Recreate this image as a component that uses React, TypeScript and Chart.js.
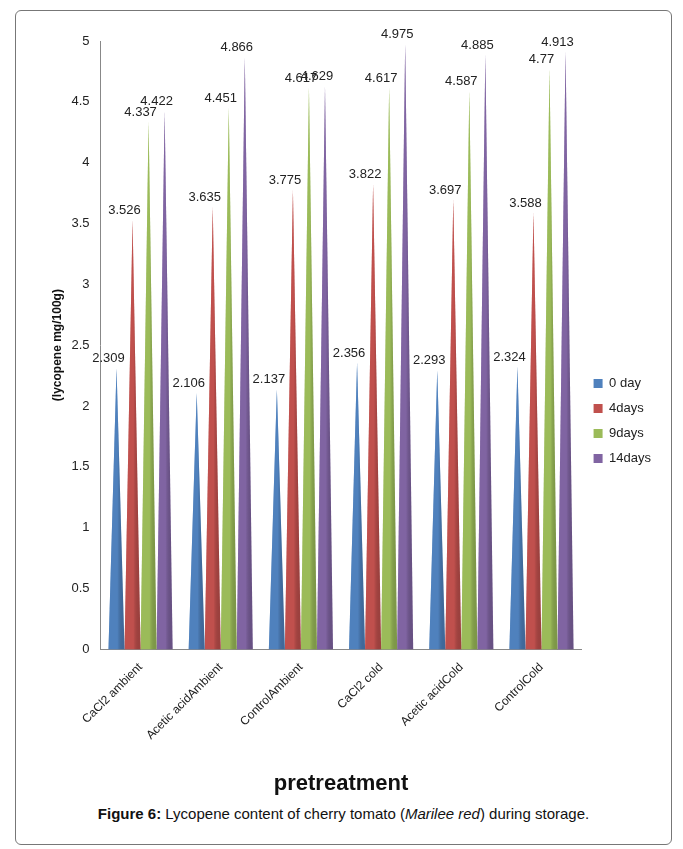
import { useEffect, useRef } from 'react';
import { Chart, registerables } from 'chart.js';

Chart.register(...registerables);

const CATEGORIES = ['CaCl2 ambient', 'Acetic acidAmbient', 'ControlAmbient', 'CaCl2 cold', 'Acetic acidCold', 'ControlCold'];
const SERIES = ['0 day', '4days', '9days', '14days'];
const COLORS = ['#4f81bd', '#c0504d', '#9bbb59', '#8064a2'];
const DAY0 = [2.309, 2.106, 2.137, 2.356, 2.293, 2.324];
const DAY4 = [3.526, 3.635, 3.775, 3.822, 3.697, 3.588];
const DAY9 = [4.337, 4.451, 4.617, 4.617, 4.587, 4.77];
const DAY14 = [4.422, 4.866, 4.629, 4.975, 4.885, 4.913];
const VALUES = [DAY0, DAY4, DAY9, DAY14];

// draws each bar as a pyramid using the bar element geometry
const pyramidPlugin = {
  id: 'pyramid',
  beforeDatasetDraw(chart: any, args: any) {
    const ctx = chart.ctx;
    const meta = args.meta;
    const color = COLORS[args.index];
    meta.data.forEach((bar: any) => {
      const { x, y, base, width } = bar.getProps(['x', 'y', 'base', 'width'], true);
      ctx.save();
      ctx.beginPath();
      ctx.moveTo(x - width / 2, base);
      ctx.lineTo(x, y);
      ctx.lineTo(x + width / 2, base);
      ctx.closePath();
      const g = ctx.createLinearGradient(x - width / 2, 0, x + width / 2, 0);
      g.addColorStop(0, color);
      g.addColorStop(0.55, color);
      g.addColorStop(1, 'rgba(0,0,0,0.35)');
      ctx.fillStyle = color;
      ctx.fill();
      ctx.fillStyle = g;
      ctx.globalAlpha = 0.5;
      ctx.fill();
      ctx.restore();
    });
    return false;
  },
  afterDatasetsDraw(chart: any) {
    const ctx = chart.ctx;
    ctx.save();
    ctx.font = '13px "Liberation Sans", Arial, sans-serif';
    ctx.fillStyle = '#222';
    ctx.textAlign = 'center';
    chart.data.datasets.forEach((ds: any, i: number) => {
      chart.getDatasetMeta(i).data.forEach((bar: any, j: number) => {
        ctx.fillText(String(ds.data[j]), bar.x - 8, bar.y - 6);
      });
    });
    ctx.restore();
  },
};

export default function App() {
  const ref = useRef<HTMLCanvasElement>(null);

  useEffect(() => {
    if (!ref.current) return;
    const chart = new Chart(ref.current.getContext('2d')!, {
      type: 'bar',
      data: {
        labels: CATEGORIES,
        datasets: SERIES.map((s, i) => ({ label: s, data: VALUES[i], backgroundColor: COLORS[i], borderWidth: 0 })),
      },
      options: {
        animation: false,
        responsive: true,
        maintainAspectRatio: false,
        layout: { padding: { top: 30, right: 10, left: 30 } },
        datasets: { bar: { categoryPercentage: 0.8, barPercentage: 1 } },
        plugins: {
          legend: {
            position: 'right',
            labels: { boxWidth: 9, boxHeight: 9, color: '#222', font: { size: 13, family: 'Liberation Sans' }, padding: 12 },
          },
          tooltip: { enabled: false },
        },
        scales: {
          x: {
            grid: { display: false },
            border: { color: '#888' },
            ticks: { color: '#222', maxRotation: 45, minRotation: 45, font: { size: 12, family: 'Liberation Sans' } },
            title: { display: true, text: 'pretreatment', color: '#111', font: { size: 22, weight: 'bold', family: 'Liberation Sans' }, padding: { top: 25 } },
          },
          y: {
            min: 0, max: 5,
            grid: { display: false },
            border: { color: '#888' },
            ticks: { stepSize: 0.5, color: '#222', font: { size: 13, family: 'Liberation Sans' }, callback: (v: any) => String(v) },
            title: { display: true, text: '(lycopene mg/100g)', color: '#111', font: { size: 12, weight: 'bold', family: 'Liberation Sans' } },
          },
        },
      },
      plugins: [pyramidPlugin],
    });
    return () => { chart.destroy(); };
  }, []);

  return (
    <div style={{ position: 'absolute', left: 15, top: 10, width: 655, height: 833, border: '1px solid #777', borderRadius: 6, fontFamily: '"Liberation Sans", Arial, sans-serif', background: '#fff' }}>
      <div style={{ position: 'relative', height: 790 }}>
        <canvas ref={ref} />
      </div>
      <div style={{ textAlign: 'center', fontSize: 15, color: '#111', marginTop: 4 }}>
        <b>Figure 6:</b> Lycopene content of cherry tomato (<i>Marilee red</i>) during storage.
      </div>
    </div>
  );
}
